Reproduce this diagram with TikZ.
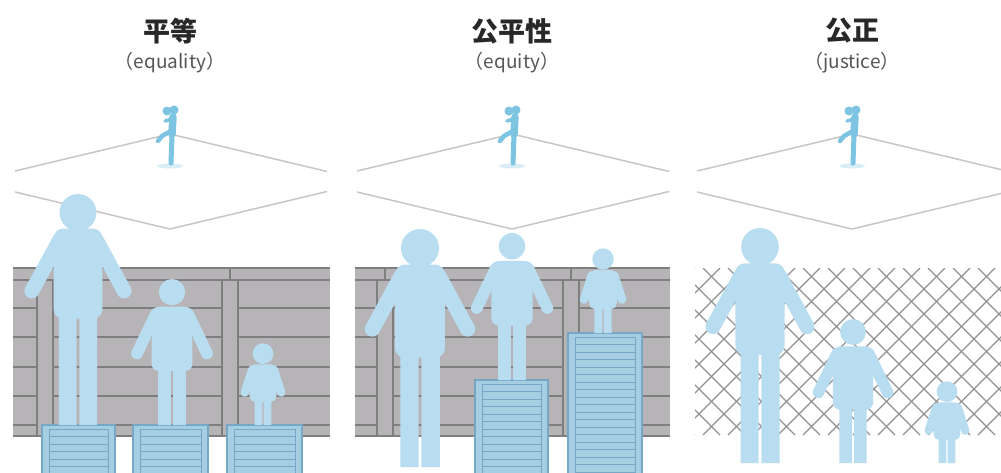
\documentclass[tikz,border=0pt]{standalone}
\usepackage{fontspec}
\setmainfont{Noto Sans CJK JP}
\usetikzlibrary{positioning}

\definecolor{figblue}{RGB}{185,221,240}
\definecolor{pitchblue}{RGB}{125,196,226}
\definecolor{fieldgray}{RGB}{200,198,198}
\definecolor{fencegray}{RGB}{182,180,182}
\definecolor{fenceline}{RGB}{128,127,128}
\definecolor{meshgray}{RGB}{145,145,145}
\definecolor{cratefill}{RGB}{166,206,226}
\definecolor{crateline}{RGB}{118,168,198}
\definecolor{titlegray}{RGB}{40,40,40}
\definecolor{subgray}{RGB}{85,85,85}

\tikzset{
    board/.style={draw=fenceline, line width=1.4},
    mesh/.style={draw=meshgray, line width=1.3},
    limb/.style={draw=figblue, line cap=round},
    title/.style={font=\fontsize{27}{27}\selectfont\bfseries, text=titlegray},
    subtitle/.style={font=\fontsize{19}{19}\selectfont, text=subgray},
    % standing figures, #1 = height from feet to top of head
    pics/adult/.style={code={
        \begin{scope}[scale=#1/100]
            \fill[figblue] (0,-92) circle (8);
            \fill[figblue, rounded corners=#1*0.04pt] (-10.5,-46) -- (-10.5,-85) -- (10.5,-85) -- (10.5,-46) -- cycle;
            \fill[figblue] (-8.3,-50) rectangle (-0.6,0) (0.6,-50) rectangle (8.3,0);
            \draw[limb, line width=#1*0.064pt] (-8,-80) -- (-20,-58) (8,-80) -- (20,-58);
        \end{scope}}},
    pics/youth/.style={code={
        \begin{scope}[scale=#1/100]
            \fill[figblue] (0,-91) circle (9);
            \fill[figblue, rounded corners=#1*0.05pt] (-14,-37) -- (-14,-81) -- (14,-81) -- (14,-37) -- cycle;
            \fill[figblue] (-9.5,-40) rectangle (-0.7,0) (0.7,-40) rectangle (9.5,0);
            \draw[limb, line width=#1*0.08pt] (-11,-76) -- (-24,-49) (11,-76) -- (24,-49);
        \end{scope}}},
    pics/kid/.style={code={
        \begin{scope}[scale=#1/100]
            \fill[figblue] (0,-86) circle (12.5);
            \fill[figblue, rounded corners=#1*0.06pt] (-16,-28) -- (-16,-73) -- (16,-73) -- (16,-28) -- cycle;
            \fill[figblue] (-10,-31) rectangle (-0.8,0) (0.8,-31) rectangle (10,0);
            \draw[limb, line width=#1*0.1pt] (-13,-67) -- (-22,-39) (13,-67) -- (22,-39);
        \end{scope}}},
    % pitcher on the mound
    pics/pitcher/.style={code={
        \fill[pitchblue!30] (0,1) ellipse (13 and 2.5);
        \fill[pitchblue] (-3,-54) circle (4.5) (4,-55) circle (4.5);
        \draw[pitchblue, line width=7.5, line cap=round] (3,-48) -- (2,-31);
        \draw[pitchblue, line width=5, line cap=round] (2,-30) -- (1,-2);
        \draw[pitchblue, line width=4.5, line cap=round] (1,-34) -- (-8,-29) -- (-12,-24);
        \draw[pitchblue, line width=3.5, line cap=round] (2,-46) -- (-5,-44);
    }}
}

% left edge, right edge, first post, second post
\newcommand\woodfence[4]{%
    \fill[fencegray] (#1,268) rectangle (#2,436);
    \draw[board] (#1,268) -- (#2,268) (#1,280) -- (#2,280) (#1,436) -- (#2,436);
    \foreach \yy in {308,337,367,396,425}
        \draw[board] (#1,\yy) -- (#3,\yy) (#3+16,\yy) -- (#4,\yy) (#4+17,\yy) -- (#2,\yy);
    \foreach \px in {#3,#4}
        \draw[board] (\px,280) -- (\px,436) (\px+16,280) -- (\px+16,436) (\px+8,268) -- (\px+8,280);
}

% left, right, top
\newcommand\crate[3]{%
    \fill[cratefill] (#1,#3) rectangle (#2,476);
    \draw[crateline, line width=1.2] (#1,#3) rectangle (#2,476);
    \draw[crateline, line width=0.8] (#1+7,#3+4) rectangle (#2-7,476);
    \foreach \k in {1,...,20}
        \draw[crateline, line width=0.8] (#1+7,#3+4+\k*7.5) -- (#2-7,#3+4+\k*7.5);
}

\begin{document}
\begin{tikzpicture}[x=1pt, y=-1pt]
    \useasboundingbox (0,0) rectangle (1001,472);
    \fill[white] (0,0) rectangle (1001,472);

    % headings, infield and pitcher for each panel
    \foreach \cx/\ttl/\sub [count=\i] in {170/平等/equality, 512/公平性/equity, 852/公正/justice} {
        \node[title] (title\i) at (\cx,31) {\ttl};
        \node[subtitle] (sub\i) at (\cx,63) {（\sub）};
        \begin{scope}
            \clip (\cx-155,120) rectangle (\cx+157,240);
            \draw[fieldgray, line width=1.5] (\cx,134) -- (\cx+199,181.5) -- (\cx,229) -- (\cx-199,181.5) -- cycle;
        \end{scope}
        \pic at (\cx,165) {pitcher};
    }

    % equality: same crate for everyone
    \woodfence{13}{330}{37}{222}
    \crate{42}{115}{425}
    \crate{133}{208}{425}
    \crate{227}{302}{425}
    \pic at (78,425) {adult=231};
    \pic at (172,425) {youth=146};
    \pic at (263,425) {kid=83};

    % equity: crates by need
    \woodfence{355}{670}{377}{563}
    \crate{475}{548}{380}
    \crate{568}{642}{333}
    \pic at (420,467) {adult=238};
    \pic at (512,380) {youth=147};
    \pic at (603,333) {kid=86};

    % justice: see-through fence
    \begin{scope}
        \clip (695,268) rectangle (1001,435);
        \foreach \k in {0,...,20} {
            \draw[mesh] (\k*25+528,435) -- (\k*25+695,268);
            \draw[mesh] (\k*25+528,268) -- (\k*25+695,435);
        }
    \end{scope}
    \pic at (760,463) {adult=235};
    \pic at (853,463) {youth=144};
    \pic at (947,463) {kid=83};
\end{tikzpicture}
\end{document}
